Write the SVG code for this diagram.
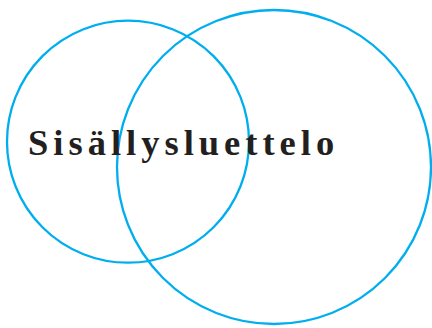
<svg xmlns="http://www.w3.org/2000/svg" width="432" height="328" viewBox="0 0 432 328">
<style>
.c{fill:none;stroke:#00aeef;stroke-width:2.3}
.t{font-family:"Liberation Serif",serif;font-weight:bold;font-size:36.5px;letter-spacing:5px;fill:#231f20}
</style>
<rect width="432" height="328" fill="#fff"/>
<g id="circle-left"><circle class="c" cx="128" cy="141.7" r="121"/></g>
<g id="circle-right"><circle class="c" cx="274" cy="167" r="157"/></g>
<g id="title"><text class="t" x="28" y="155">Sisällysluettelo</text></g>
</svg>
